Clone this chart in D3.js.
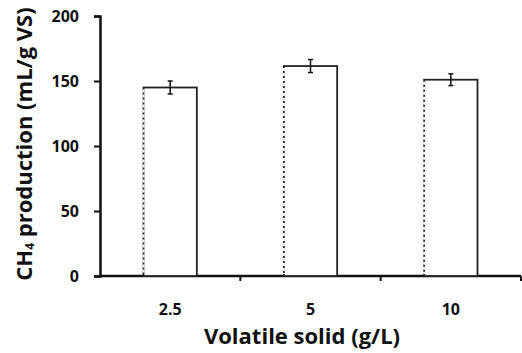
<!DOCTYPE html>
<html>
<head>
<meta charset="utf-8">
<script src="https://d3js.org/d3.v7.min.js"></script>
<style>
  body { margin: 0; background: #fff; }
  text { font-family: "Open Sans", "DejaVu Sans", sans-serif; font-weight: bold; fill: #111; }
</style>
</head>
<body>
<div id="chart"></div>
<script>
// Data
const categories = ["2.5", "5", "10"];
const values = [145, 161.5, 151];
const errors = [5, 5, 4.5];
const yTicks = [0, 50, 100, 150, 200];

const width = 522, height = 353;
const margin = { top: 16, right: 1, bottom: 77, left: 100 };

const svg = d3.select("#chart").append("svg")
  .attr("width", width)
  .attr("height", height);

const x = d3.scaleBand()
  .domain(categories)
  .range([margin.left, width - margin.right])
  .paddingInner(0.62)
  .paddingOuter(0.31);

const y = d3.scaleLinear()
  .domain([0, 200])
  .range([height - margin.bottom, margin.top]);

// y axis
const yAxis = svg.append("g")
  .attr("transform", `translate(${margin.left},0)`)
  .call(d3.axisLeft(y).tickValues(yTicks).tickSize(6).tickPadding(15));
yAxis.select(".domain").attr("stroke", "#111").attr("stroke-width", 2.5);
yAxis.selectAll(".tick line").attr("stroke", "#111").attr("stroke-width", 2);
yAxis.selectAll(".tick text").style("font-size", "16px");

// x axis with ticks at category boundaries
const bounds = d3.range(categories.length + 1).map(i => margin.left + i * (width - margin.right - margin.left) / categories.length);
const xg = svg.append("g").attr("transform", `translate(0,${y(0)})`);
xg.append("line")
  .attr("x1", margin.left).attr("x2", width - margin.right)
  .attr("stroke", "#111").attr("stroke-width", 2.5);
xg.selectAll("line.tk")
  .data(bounds.slice(1))
  .enter().append("line")
  .attr("class", "tk")
  .attr("x1", d => d).attr("x2", d => d)
  .attr("y1", 0).attr("y2", 5)
  .attr("stroke", "#111").attr("stroke-width", 2);
xg.selectAll("text")
  .data(categories)
  .enter().append("text")
  .attr("x", d => x(d) + x.bandwidth() / 2)
  .attr("y", 39)
  .attr("text-anchor", "middle")
  .style("font-size", "16px")
  .text(d => d);

// bars
const bars = svg.append("g");
bars.selectAll("rect")
  .data(values)
  .enter().append("rect")
  .attr("x", (d, i) => x(categories[i]))
  .attr("y", d => y(d))
  .attr("width", x.bandwidth())
  .attr("height", d => y(0) - y(d))
  .attr("fill", "#fff")
  .attr("stroke", "#222")
  .attr("stroke-width", 1.8);

// dotted left edges, like the scan
bars.selectAll("line.left")
  .data(values)
  .enter().append("line")
  .attr("class", "left")
  .attr("x1", (d, i) => x(categories[i]))
  .attr("x2", (d, i) => x(categories[i]))
  .attr("y1", d => y(d) + 2)
  .attr("y2", y(0) - 2)
  .attr("stroke", "#fff")
  .attr("stroke-width", 2)
  .attr("stroke-dasharray", "3,2");

// error bars
const eb = svg.append("g").attr("stroke", "#111").attr("stroke-width", 1.5);
values.forEach((v, i) => {
  const cx = x(categories[i]) + x.bandwidth() / 2;
  eb.append("line").attr("x1", cx).attr("x2", cx).attr("y1", y(v + errors[i])).attr("y2", y(v - errors[i]));
  eb.append("line").attr("x1", cx - 2.5).attr("x2", cx + 2.5).attr("y1", y(v + errors[i])).attr("y2", y(v + errors[i]));
  eb.append("line").attr("x1", cx - 2.5).attr("x2", cx + 2.5).attr("y1", y(v - errors[i])).attr("y2", y(v - errors[i]));
});

// axis titles
svg.append("text")
  .attr("x", 302)
  .attr("y", 344)
  .attr("text-anchor", "middle")
  .style("font-size", "22px")
  .text("Volatile solid (g/L)");

svg.append("text")
  .attr("transform", "translate(32,144) rotate(-90)")
  .attr("text-anchor", "middle")
  .style("font-size", "22px")
  .html('CH<tspan font-size="12px" dy="2">4</tspan><tspan dy="-2"> production (mL/g VS)</tspan>');
</script>
</body>
</html>
